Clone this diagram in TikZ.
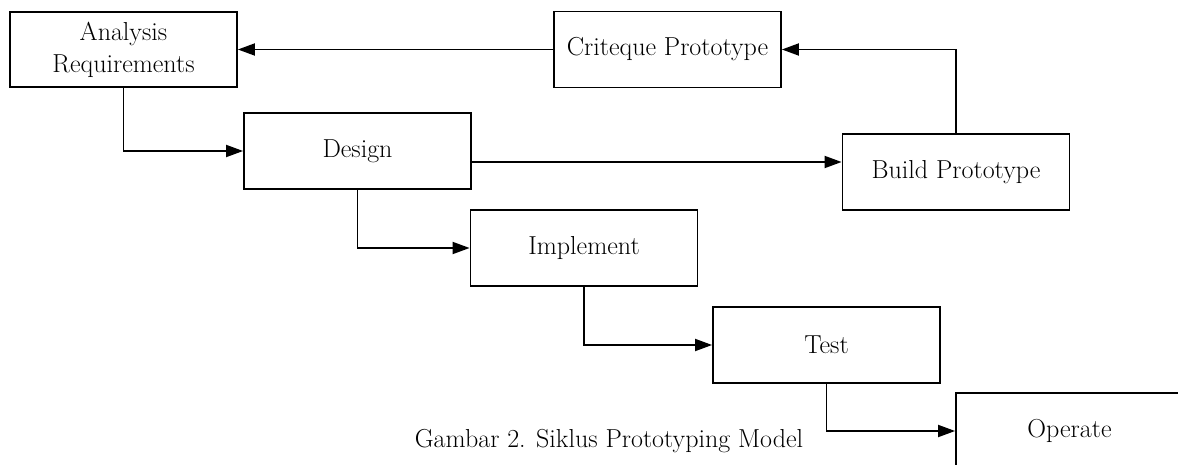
\documentclass[tikz,border=0pt]{standalone}
\usepackage{fontspec}
\usetikzlibrary{arrows.meta,calc}
\begin{document}
\begin{tikzpicture}[x=1pt,y=-1pt,
  box/.style={draw=black,line width=1.8pt,minimum width=227pt,minimum height=76pt,inner sep=0pt,align=center,font=\fontsize{26}{32}\selectfont},
  arr/.style={line width=1.8pt,-{Triangle[length=17pt,width=12pt]}},
  con/.style={line width=1.8pt}]
\clip (0,0) rectangle (1178,465);
\fill[white] (0,0) rectangle (1178,465);
\node[box,minimum width=227pt,minimum height=75pt] (ana) at (123.5,49.5) {Analysis\\Requirements};
\node[box] (cri) at (667.5,49.5) {Criteque Prototype};
\node[box] (des) at (357.5,151) {Design};
\node[box] (bui) at (956,172) {Build Prototype};
\node[box] (imp) at (584,248) {Implement};
\node[box] (tst) at (826.5,345) {Test};
\node[box] (ope) at (1069.5,431) {Operate};
\node[font=\fontsize{26}{32}\selectfont] (cap) at (609,441) {Gambar 2. Siklus Prototyping Model};
\draw[arr] (bui.north) |- (cri.east);
\draw[arr] (cri.west) -- (ana.east);
\draw[arr] (ana.south) |- (des.west);
\draw[arr] ([yshift=-11pt]des.east) -- ([yshift=-11pt]des.east -| bui.west);
\draw[arr] (des.south) |- (imp.west);
\draw[arr] (imp.south) |- (tst.west);
\draw[arr] (tst.south) |- (ope.west);
\end{tikzpicture}
\end{document}
